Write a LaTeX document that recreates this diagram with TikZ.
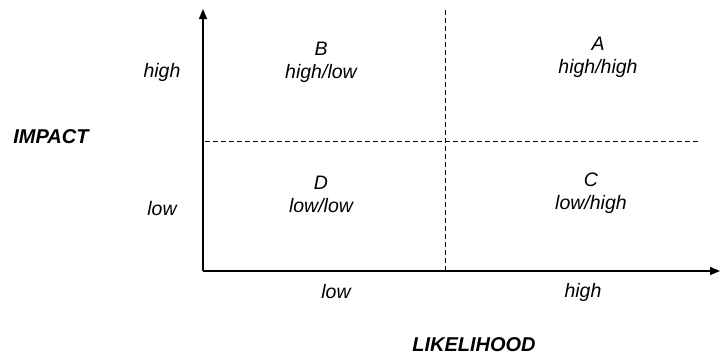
\documentclass[tikz,border=0pt]{standalone}
\usepackage{fontspec}
\setmainfont{Liberation Sans}
\usetikzlibrary{arrows.meta}
\begin{document}
\begin{tikzpicture}[x=1pt,y=-1pt,
  lbl/.style={font=\fontsize{19.5}{23}\selectfont\itshape, align=center, inner sep=0pt},
  title/.style={font=\fontsize{20}{23}\selectfont\bfseries\itshape, inner sep=0pt},
  axis/.style={line width=1.3pt, -{Triangle[length=10pt,width=8pt]}},
  grid/.style={dashed, dash pattern=on 5pt off 3pt, line width=0.9pt}]
\useasboundingbox (0,0) rectangle (720,359);
\coordinate (o) at (203,271);
\coordinate (ytop) at (203,9);
\coordinate (xend) at (720,271);
\coordinate (vt) at (445,10);
\coordinate (vb) at (445,270);
\coordinate (hl) at (205,141);
\coordinate (hr) at (698,141);
\draw[axis] (o) -- (ytop);
\draw[axis] (o) -- (xend);
\draw[grid] (vt) -- (vb);
\draw[grid] (hl) -- (hr);
\node[lbl] (yh) at (162,72) {high};
\node[lbl] (yl) at (162,209) {low};
\node[title] (imp) at (51,137) {IMPACT};
\node[lbl] (xl) at (336,292) {low};
\node[lbl] (xh) at (583,292) {high};
\node[title] (lik) at (474,345) {LIKELIHOOD};
\node[lbl] (b) at (321,62) {B\\high/low};
\node[lbl] (a) at (598,57) {A\\high/high};
\node[lbl] (d) at (321,194) {D\\low/low};
\node[lbl] (c) at (591,193) {C\\low/high};
\end{tikzpicture}
\end{document}
